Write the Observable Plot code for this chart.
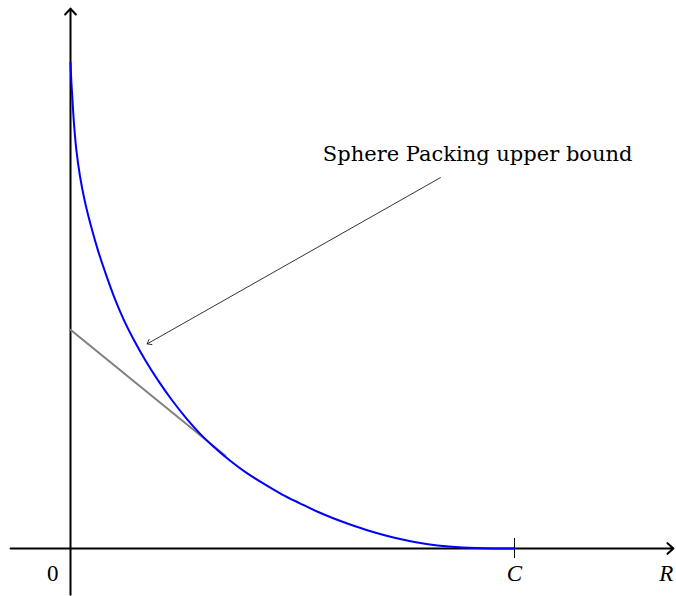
<!DOCTYPE html>
<html>
<head>
<meta charset="utf-8">
<script src="https://cdn.jsdelivr.net/npm/d3@7"></script>
<script src="https://cdn.jsdelivr.net/npm/@observablehq/plot@0.6"></script>
<style>
  html, body { margin: 0; padding: 0; background: #fff; }
</style>
</head>
<body>
<div id="chart"></div>
<script>
// Upper bound curve: rate R (C = 1) against the bound value (1 at R = 0)
const boundR = [0, 0.0018, 0.0045, 0.0082, 0.0133, 0.0212, 0.0319, 0.0457, 0.0620,
  0.0806, 0.1015, 0.1208, 0.1434, 0.1688, 0.1972, 0.2287, 0.2572, 0.2910, 0.3218,
  0.3590, 0.3957, 0.4376, 0.4770, 0.5167, 0.5554, 0.5932, 0.6297, 0.6703, 0.7097,
  0.7475, 0.7813, 0.8266, 0.8829, 0.9505, 1.0];
const boundE = [1.0, 0.963, 0.922, 0.870, 0.819, 0.767, 0.716, 0.665, 0.613,
  0.562, 0.510, 0.469, 0.428, 0.387, 0.346, 0.305, 0.272, 0.237, 0.210,
  0.181, 0.156, 0.132, 0.111, 0.093, 0.0761, 0.0617, 0.0494, 0.037, 0.0267,
  0.0185, 0.0123, 0.0062, 0.0021, 0.0, 0.0];

// Straight-line segment, tangent to the curve
const tangentR = [0, 0.349];
const tangentE = [0.45, 0.191];

// Axis extents (in R and bound units) and the capacity tick
const axisRange = [-0.135, 1.358];
const axisValue = [-0.095, 1.111];
const capacity = 1;

// Axis labels
const axisLabels = ["0", "C", "R"];
const axisLabelR = [-0.04, capacity, 1.342];
const axisLabelItalic = [false, true, true];

// Annotation
const noteText = "Sphere Packing upper bound";
const noteAt = [0.917, 0.811];
const noteFrom = [0.833, 0.763];
const noteTo = [0.1727, 0.421];

const bound = boundR.map((r, i) => ({r, e: boundE[i]}));
const tangent = tangentR.map((r, i) => ({r, e: tangentE[i]}));
const labels = axisLabels.map((t, i) => ({t, r: axisLabelR[i], italic: axisLabelItalic[i]}));

const serif = "'Liberation Serif', 'DejaVu Serif', serif";

const chart = Plot.plot({
  width: 676,
  height: 596,
  margin: 0,
  x: {domain: [0, 1], range: [70, 514], axis: null},
  y: {domain: [0, 1], range: [548, 62], axis: null},
  style: {background: "#fff", fontFamily: serif},
  marks: [
    // axes with arrow heads
    Plot.arrow([{x1: axisRange[0], y1: 0, x2: axisRange[1], y2: 0}],
      {x1: "x1", y1: "y1", x2: "x2", y2: "y2", stroke: "#000", strokeWidth: 2, headLength: 6, headAngle: 84}),
    Plot.arrow([{x1: 0, y1: axisValue[0], x2: 0, y2: axisValue[1]}],
      {x1: "x1", y1: "y1", x2: "x2", y2: "y2", stroke: "#000", strokeWidth: 2, headLength: 6, headAngle: 84}),
    // capacity tick
    Plot.ruleX([capacity], {y1: -0.0206, y2: 0.0206, stroke: "#000", strokeWidth: 1}),
    // tangent segment and the bound curve
    Plot.line(tangent, {x: "r", y: "e", stroke: "#808080", strokeWidth: 2}),
    Plot.line(bound, {x: "r", y: "e", stroke: "#0000ff", strokeWidth: 2, curve: "catmull-rom"}),
    // annotation
    Plot.arrow([{x1: noteFrom[0], y1: noteFrom[1], x2: noteTo[0], y2: noteTo[1]}],
      {x1: "x1", y1: "y1", x2: "x2", y2: "y2", stroke: "#000", strokeWidth: 0.8, headLength: 9, headAngle: 75}),
    Plot.text([noteText], {x: noteAt[0], y: noteAt[1], text: d => d, fontSize: 21,
      fontFamily: "'DejaVu Serif', serif", fill: "#000"}),
    // axis labels
    Plot.text(labels.filter(d => !d.italic), {x: "r", y: -0.051, text: "t", fontSize: 23, fill: "#000"}),
    Plot.text(labels.filter(d => d.italic), {x: "r", y: -0.051, text: "t", fontSize: 23, fontStyle: "italic", fill: "#000"})
  ]
});

document.getElementById("chart").appendChild(chart);
</script>
</body>
</html>
